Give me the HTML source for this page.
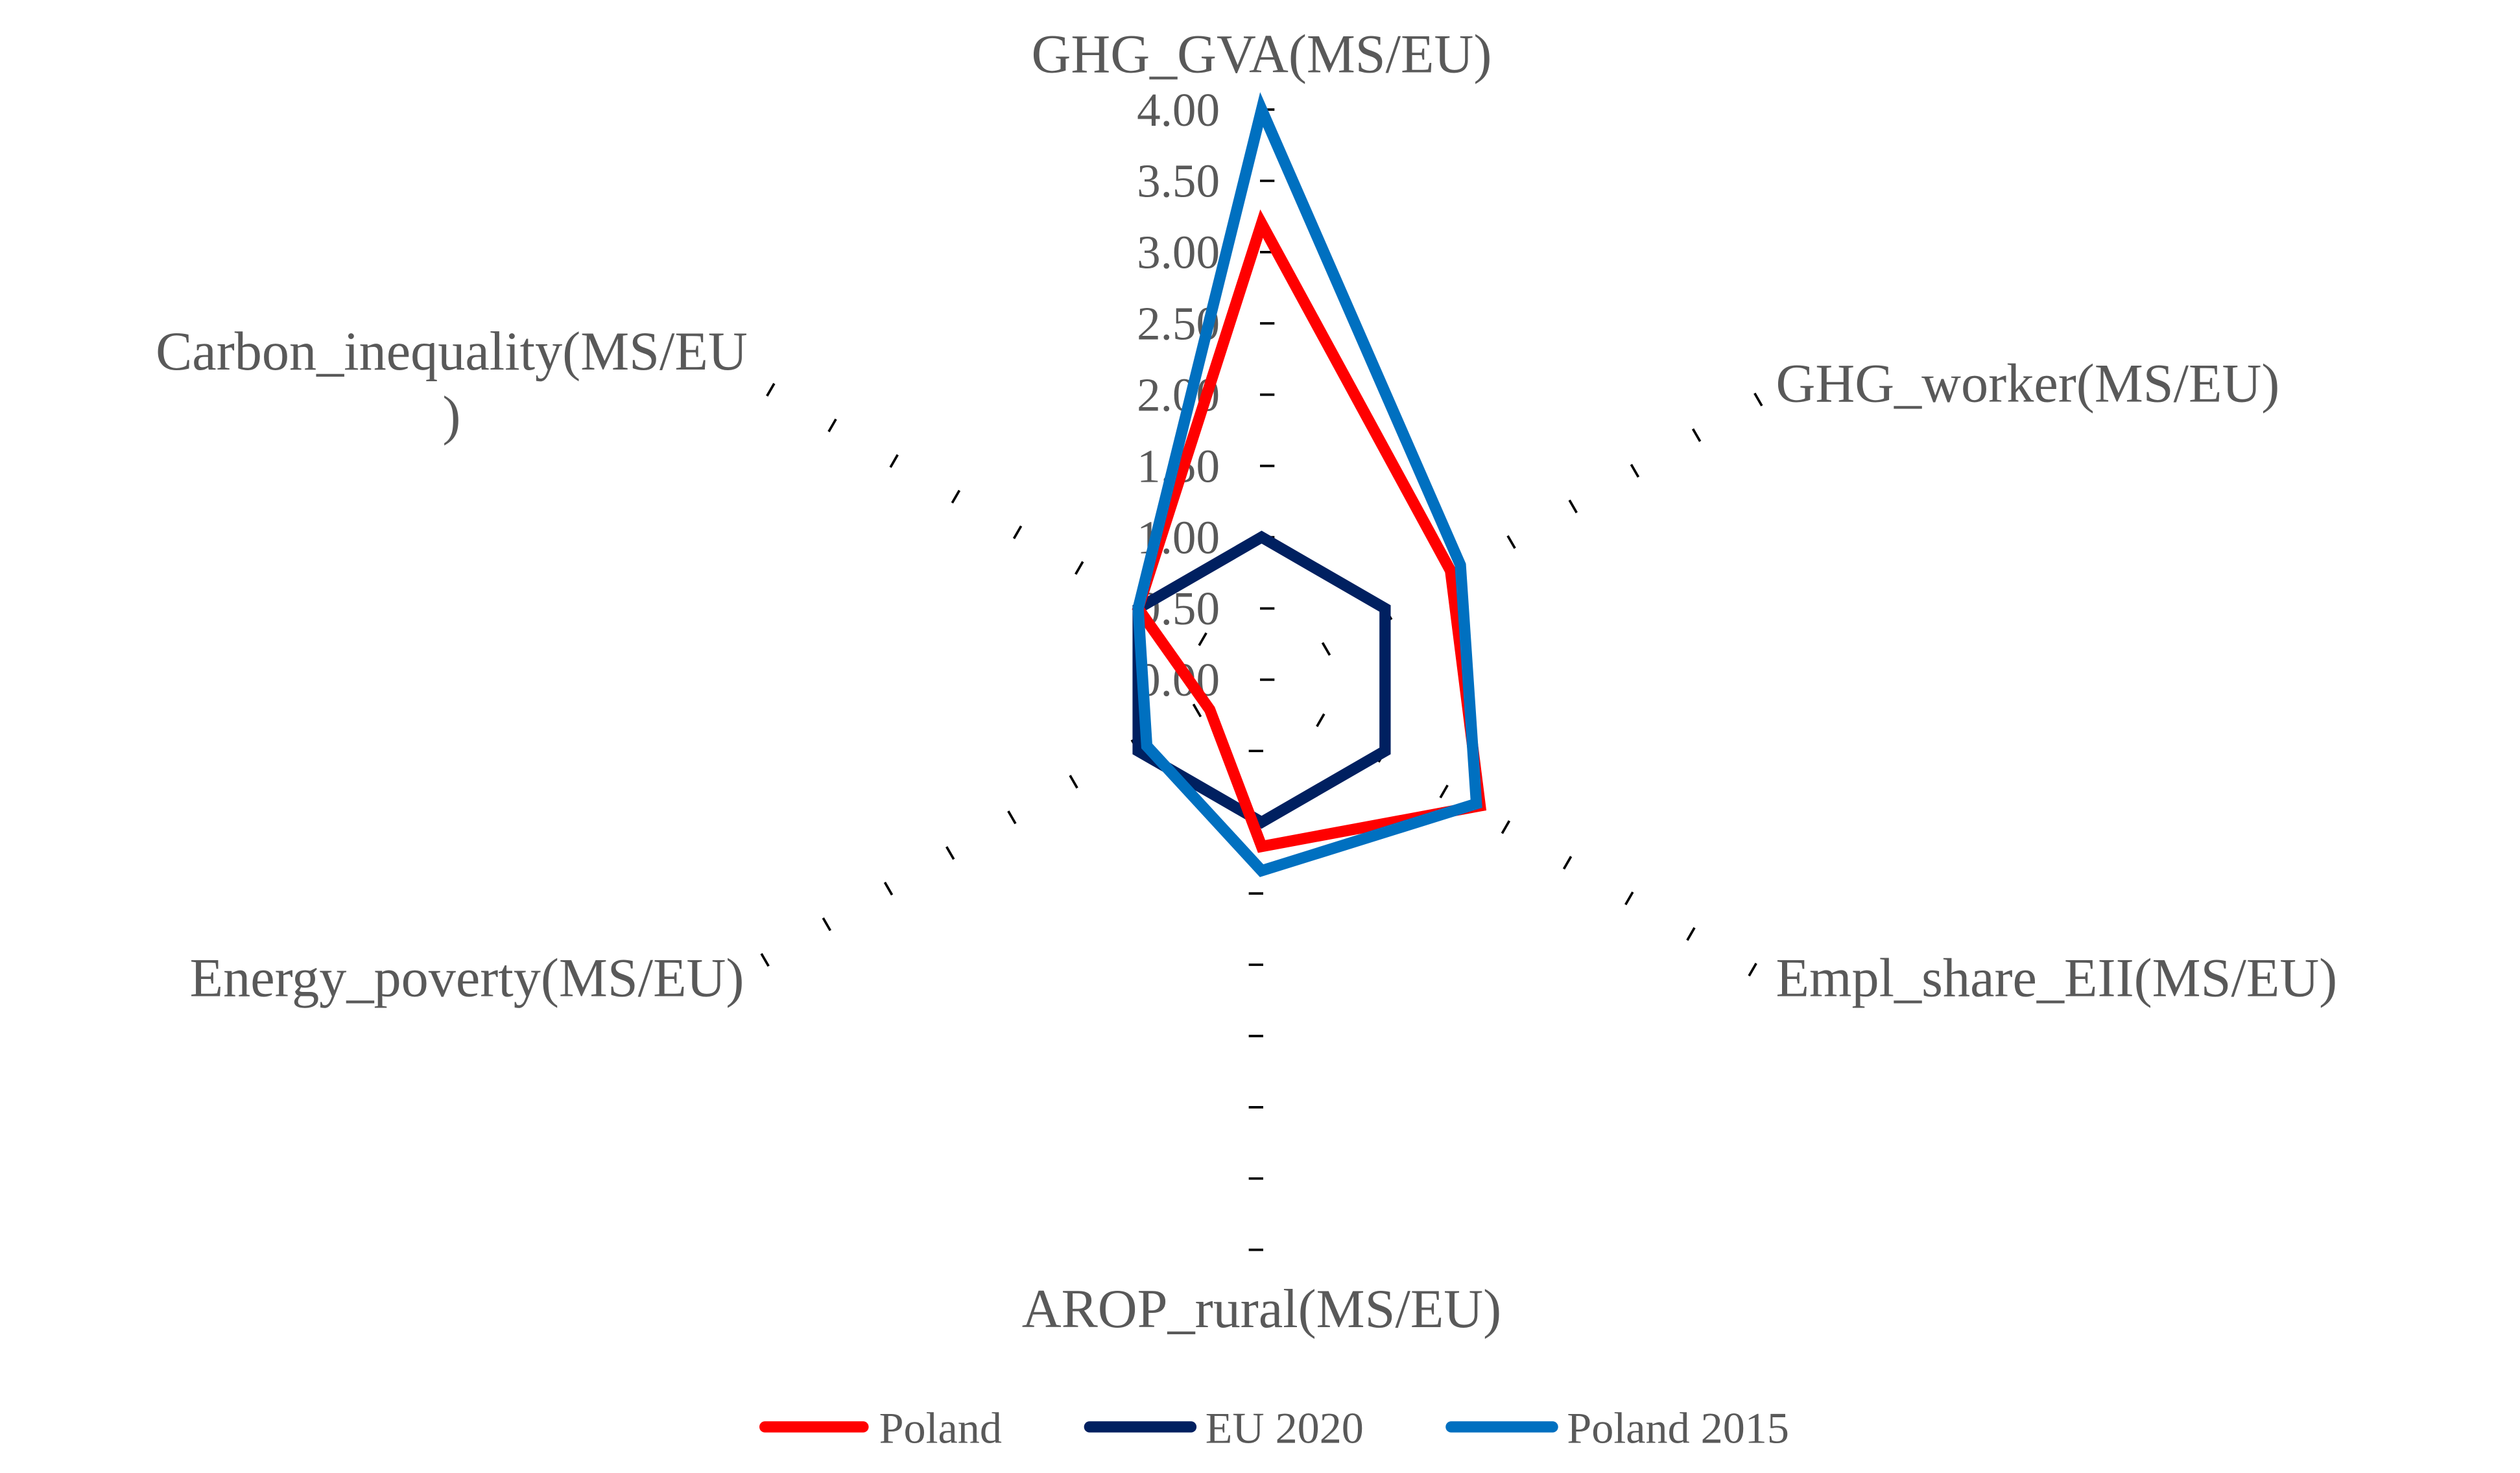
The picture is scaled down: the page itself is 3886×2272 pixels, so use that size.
<!DOCTYPE html>
<html><head><meta charset="utf-8"><style>
html,body{margin:0;padding:0;background:#fff;width:3886px;height:2272px;overflow:hidden}
svg{display:block}
text{font-family:"Liberation Serif",serif;fill:#595959}
</style></head><body>
<svg id="s" width="3886" height="2272" viewBox="0 0 1568 916.7" preserveAspectRatio="none" xmlns="http://www.w3.org/2000/svg">
<g id="ticks" stroke="#000" stroke-width="1.5"></g>
<g font-size="29.5" text-anchor="end" id="tl"></g>
<g fill="none" stroke-width="7" stroke-linejoin="miter">
<polygon id="eu" stroke="#002060"/>
<polygon id="pl" stroke="#FF0000"/>
<polygon id="p15" stroke="#0070C0"/>
</g>
<g font-size="34">
<text x="785" y="45" text-anchor="middle">GHG_GVA(MS/EU)</text>
<text x="1105" y="250">GHG_worker(MS/EU)</text>
<text x="1105" y="620">Empl_share_EII(MS/EU)</text>
<text x="785" y="826" text-anchor="middle">AROP_rural(MS/EU)</text>
<text x="463" y="620" text-anchor="end">Energy_poverty(MS/EU)</text>
<text x="281" y="230" text-anchor="middle">Carbon_inequality(MS/EU</text>
<text x="281" y="270" text-anchor="middle">)</text>
</g>
<g stroke-width="7" stroke-linecap="round">
<line x1="476" y1="888" x2="537" y2="888" stroke="#FF0000"/>
<line x1="678" y1="888" x2="741" y2="888" stroke="#002060"/>
<line x1="903" y1="888" x2="966" y2="888" stroke="#0070C0"/>
</g>
<g font-size="27.5">
<text x="547" y="898">Poland</text>
<text x="750" y="898">EU 2020</text>
<text x="975" y="898">Poland 2015</text>
</g>
</svg>
<script>
var cx=785,cy=423,u=88.7,NS="http://www.w3.org/2000/svg";
function pt(i,r){var a=i*Math.PI/3;return [cx+Math.sin(a)*r*u,cy-Math.cos(a)*r*u];}
var tg=document.getElementById('ticks');
for(var i=0;i<6;i++){var a=i*Math.PI/3,dx=Math.sin(a),dy=-Math.cos(a),px=-dy,py=dx;
 for(var k=(i==0?0:1);k<=8;k++){var p=pt(i,k*0.5);var l=document.createElementNS(NS,'line');
 l.setAttribute('x1',p[0]-px*1);l.setAttribute('y1',p[1]-py*1);l.setAttribute('x2',p[0]+px*8);l.setAttribute('y2',p[1]+py*8);tg.appendChild(l);}}
var tl=document.getElementById('tl');
for(var k=0;k<=8;k++){var t=document.createElementNS(NS,'text');t.setAttribute('x',759);t.setAttribute('y',cy-k*0.5*u+10);t.textContent=(k*0.5).toFixed(2);tl.appendChild(t);}
function poly(id,v){document.getElementById(id).setAttribute('points',v.map(function(r,i){return pt(i,r).join(',');}).join(' '));}
poly('eu',[1,1,1,1,1,1]);
poly('pl',[3.2,1.53,1.77,1.17,0.42,1.0]);
poly('p15',[4.0,1.61,1.74,1.34,0.93,1.0]);
</script>
</body></html>
